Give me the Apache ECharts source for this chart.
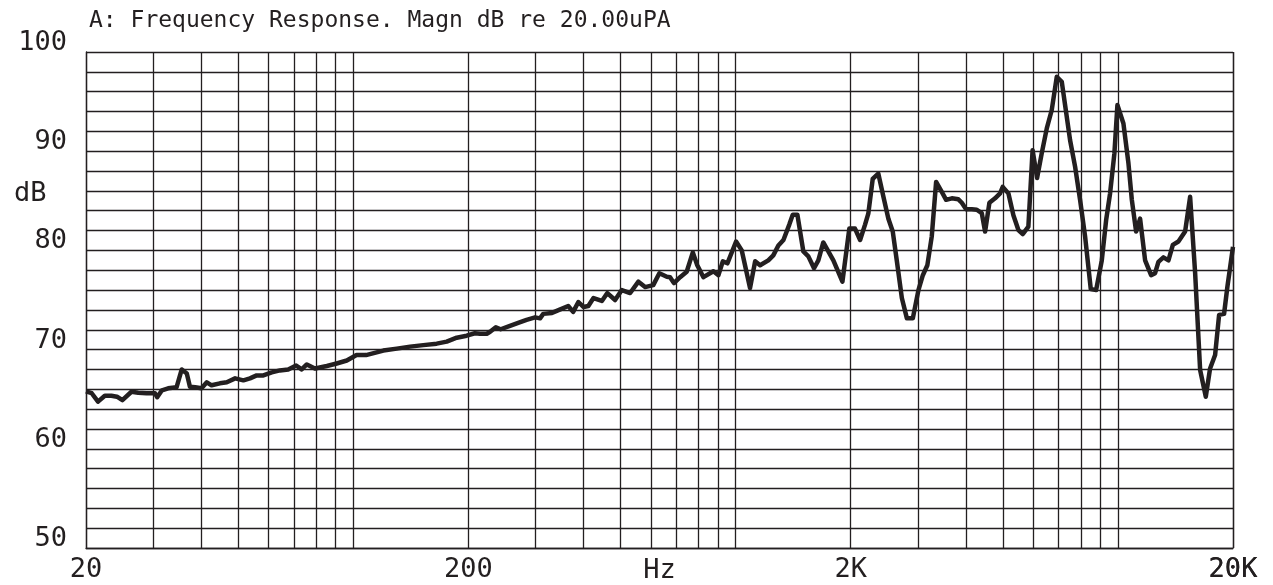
<!DOCTYPE html>
<html>
<head>
<meta charset="utf-8">
<script src="https://cdn.jsdelivr.net/npm/echarts@6/dist/echarts.min.js"></script>
<style>html,body{margin:0;padding:0;background:#fff;}#c{width:1273px;height:585px;}</style>
</head>
<body>
<div id="c"></div>
<script>
// ---- data ----
const titleText = 'A: Frequency Response. Magn dB re 20.00uPA';
const freqHz = [20,20.7,21.5,22.4,23.3,24.1,24.9,26.3,27.4,28.8,30.3,30.7,31.6,32.8,34.5,35.6,36.7,37.4,38.6,40.1,
41.4,42.6,44.8,46.7,49.1,51.6,53.7,55.9,58.2,61.2,64.3,67.6,70.9,73.3,75.6,79.4,85.3,90.5,96.2,102,
108,119.9,130,140.8,152.5,165.3,175.6,186.5,198,208,214.6,223.5,228,236,243,257,270,284,299,308,
314,331,348,365,376,388,400,412,425,447,462,484,504,530,557,580,609,632,661,674,
690,716,745,773,794,824,875,902,926,952,1003,1038,1091,1125,1159,1218,1255,1294,1334,1382,
1411,1451,1504,1550,1604,1646,1696,1802,1903,1984,2053,2117,2181,2224,2284,2362,2436,2510,2577,2640,
2722,2806,2908,3008,3089,3174,3259,3346,3462,3554,3678,3826,3906,4008,4148,4274,4405,4494,4612,4772,
4918,4998,5171,5329,5492,5638,5832,5982,6146,6322,6516,6714,6920,7132,7276,7498,7727,7963,8207,8492,
8770,9076,9315,9540,9792,9970,10338,10654,10874,11158,11430,11780,12214,12510,12764,13154,13558,13922,14398,14990,
15448,15922,16408,16978,17422,17956,18394,18954,19338,20000];
const levelDb = [65.8,65.6,64.75,65.35,65.35,65.25,64.9,65.75,65.65,65.6,65.6,65.2,65.9,66.1,66.2,68.0,67.6,66.25,66.2,66.1,
66.7,66.4,66.6,66.7,67.1,66.9,67.1,67.4,67.4,67.7,67.9,68.0,68.4,68.0,68.5,68.1,68.35,68.6,68.9,69.45,
69.45,69.9,70.1,70.3,70.45,70.6,70.8,71.2,71.4,71.65,71.6,71.6,71.8,72.25,72.05,72.4,72.7,73.0,73.25,73.15,
73.6,73.7,74.05,74.4,73.8,74.8,74.3,74.4,75.2,74.9,75.7,75.0,76.0,75.7,76.85,76.3,76.5,77.7,77.35,77.3,
76.7,77.3,77.85,79.8,78.5,77.3,77.9,77.5,78.9,78.7,80.9,80.0,76.2,78.9,78.5,79.0,79.5,80.5,81.05,82.6,
83.6,83.6,79.9,79.4,78.2,79.0,80.8,79.0,76.85,82.2,82.2,81.05,82.6,83.7,87.2,87.75,85.4,83.2,81.9,79.0,
75.2,73.15,73.15,76.0,77.5,78.5,81.4,86.9,85.9,85.1,85.25,85.15,84.8,84.15,84.15,84.1,83.75,81.9,84.8,85.25,
85.75,86.4,85.75,83.55,82.05,81.65,82.4,90.1,87.3,89.8,92.3,94.15,97.5,97.0,94.65,91.1,88.45,85.1,81.4,76.1,
76.0,79.0,83.05,85.75,89.8,94.65,92.8,88.8,85.1,81.9,83.2,79.0,77.5,77.7,78.85,79.3,79.0,80.55,80.9,81.9,
85.4,77.7,67.95,65.25,68.1,69.45,73.5,73.6,76.35,80.35];
const xTickValues = [20, 200, 2000, 20000];
const xTickLabels = ['20', '200', '2K', '20K'];
const yMin = 50, yMax = 100, yStep = 2, yLabelStep = 10;
const xName = 'Hz';
const yName = 'dB';

// ---- build ----
const ink = '#231f20';
const font = 'DejaVu Sans Mono';
const gridFreqs = [];
for (let d = 10; d <= 10000; d *= 10) {
  for (let m = 1; m <= 9; m++) {
    const f = m * d;
    if (f >= 20 && f <= 20000) gridFreqs.push(f);
  }
}
gridFreqs.push(20000);

const markData = gridFreqs.map(f => {
  const idx = xTickValues.indexOf(f);
  const item = { xAxis: f };
  if (idx >= 0) {
    item.label = { show: true, position: 'start', formatter: xTickLabels[idx] };
  }
  return item;
});

const chart = echarts.init(document.getElementById('c'), null, { renderer: 'canvas' });
chart.setOption({
  animation: false,
  backgroundColor: '#fff',
  title: {
    text: titleText, left: 84, top: 5,
    textStyle: { fontFamily: font, fontSize: 23, fontWeight: 'normal', color: ink }
  },
  graphic: [{
    type: 'text', left: 14, top: 180,
    style: { text: yName, fontFamily: font, fontSize: 27, fill: ink }
  }],
  grid: { left: 86, right: 40, top: 52, bottom: 37, containLabel: false, outerBoundsMode: 'none' },
  xAxis: {
    type: 'log', logBase: 10, min: 20, max: 20000,
    name: xName, nameLocation: 'middle', nameGap: 9,
    nameTextStyle: { fontFamily: font, fontSize: 27, color: ink, verticalAlign: 'top' },
    axisLine: { show: true, lineStyle: { color: ink, width: 1.3 } },
    axisTick: { show: false },
    axisLabel: { show: false },
    splitLine: { show: false }
  },
  yAxis: {
    type: 'value', min: yMin, max: yMax, interval: yStep,
    axisLine: { show: true, lineStyle: { color: ink, width: 1.3 } },
    axisTick: { show: false },
    axisLabel: {
      fontFamily: font, fontSize: 27, color: ink, margin: 19,
      verticalAlign: 'bottom', lineHeight: 18,
      formatter: v => (v % yLabelStep === 0 ? String(v) : '')
    },
    splitLine: { show: true, lineStyle: { color: ink, width: 1.3 } }
  },
  series: [
    {
      type: 'line', data: [], z: 1, silent: true,
      markLine: {
        silent: true, animation: false, symbol: ['none', 'none'],
        lineStyle: { type: 'solid', color: ink, width: 1.3 },
        label: {
          show: false, position: 'start', distance: 8,
          fontFamily: font, fontSize: 27, color: ink
        },
        emphasis: { disabled: true },
        data: markData
      }
    },
    {
      type: 'line', z: 3, symbol: 'none', smooth: false,
      lineStyle: { color: ink, width: 4.5, join: 'round' },
      data: freqHz.map((f, i) => [f, levelDb[i]])
    }
  ]
});
</script>
</body>
</html>
